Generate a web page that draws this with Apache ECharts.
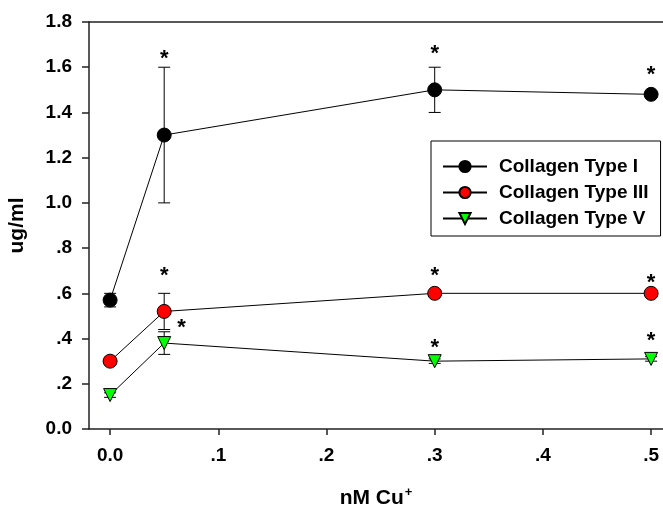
<!DOCTYPE html>
<html>
<head>
<meta charset="utf-8">
<script src="https://cdn.jsdelivr.net/npm/echarts@6/dist/echarts.min.js"></script>
<style>
  html, body { margin: 0; padding: 0; background: #fff; }
  #chart { width: 663px; height: 506px; }
</style>
</head>
<body>
<div id="chart"></div>
<script>
// data
const doses = [0, 0.05, 0.3, 0.5];
const typeI = [0.57, 1.30, 1.50, 1.48];
const typeIErr = [0.03, 0.30, 0.10, 0.01];
const typeIII = [0.30, 0.52, 0.60, 0.60];
const typeIIIErr = [0.01, 0.08, 0.01, 0.01];
const typeV = [0.15, 0.38, 0.30, 0.31];
const typeVErr = [0.01, 0.05, 0.01, 0.01];
// significance marks (x, y)
const starsI = [[0.05, 1.66], [0.3, 1.68], [0.5, 1.59]];
const starsIII = [[0.05, 0.70], [0.3, 0.70], [0.5, 0.67]];
const starsV = [[0.066, 0.47], [0.3, 0.38], [0.5, 0.41]];
const xTicks = [0, 0.1, 0.2, 0.3, 0.4, 0.5];

const FONT = "'Liberation Sans', Arial, sans-serif";

const fmt = (v) => {
  if (Math.abs(v) < 1e-9) return "0.0";
  const s = v.toFixed(1);
  return v < 1 ? s.slice(1) : s;
};

const pairs = (ys) => doses.map((x, i) => [x, ys[i]]);
const errRows = (ys, es) => doses.map((x, i) => [x, ys[i] - es[i], ys[i] + es[i]]);

const errorSeries = (ys, es) => ({
  type: "custom",
  z: 1,
  silent: true,
  data: errRows(ys, es),
  encode: { x: 0, y: [1, 2] },
  renderItem: (params, api) => {
    const lo = api.coord([api.value(0), api.value(1)]);
    const hi = api.coord([api.value(0), api.value(2)]);
    const w = 6;
    const style = { stroke: "#000", lineWidth: 1 };
    return {
      type: "group",
      children: [
        { type: "line", shape: { x1: hi[0], y1: hi[1], x2: lo[0], y2: lo[1] }, style },
        { type: "line", shape: { x1: hi[0] - w, y1: hi[1], x2: hi[0] + w, y2: hi[1] }, style },
        { type: "line", shape: { x1: lo[0] - w, y1: lo[1], x2: lo[0] + w, y2: lo[1] }, style },
      ],
    };
  },
});

const starSeries = (pts) => ({
  type: "custom",
  z: 5,
  silent: true,
  data: pts,
  encode: { x: 0, y: 1 },
  renderItem: (params, api) => {
    const p = api.coord([api.value(0), api.value(1)]);
    return {
      type: "text",
      x: p[0],
      y: p[1] + 5,
      style: {
        text: "*",
        font: "bold 22px " + FONT,
        fill: "#000",
        textAlign: "center",
        textVerticalAlign: "middle",
      },
    };
  },
});

const lineSeries = (name, ys, symbol, color, extra) => Object.assign({
  name,
  type: "line",
  z: 3,
  data: pairs(ys),
  symbol,
  symbolSize: 14,
  showAllSymbol: true,
  lineStyle: { color: "#000", width: 1 },
  itemStyle: { color, borderColor: "#000", borderWidth: 1 },
  emphasis: { disabled: true },
}, extra || {});

const chart = echarts.init(document.getElementById("chart"));

chart.setOption({
  animation: false,
  backgroundColor: "#fff",
  grid: { left: 89, top: 22, right: 0, bottom: 77, outerBoundsMode: "none", containLabel: false },
  legend: {
    orient: "vertical",
    left: 431,
    top: 141,
    padding: [16, 12, 8, 11],
    itemWidth: 44,
    itemHeight: 14,
    itemGap: 7,
    borderColor: "#000",
    borderWidth: 1,
    backgroundColor: "#fff",
    textStyle: { fontFamily: FONT, fontWeight: "bold", fontSize: 19, color: "#000", padding: [0, 0, 0, 7] },
    data: ["Collagen Type I", "Collagen Type III", "Collagen Type V"],
  },
  xAxis: [
    {
      type: "value",
      min: -0.0195,
      max: 0.511,
      splitLine: { show: false },
      axisLine: { show: true, onZero: false, lineStyle: { color: "#222", width: 1.5 } },
      axisTick: { show: true, length: 6, customValues: xTicks, lineStyle: { color: "#222", width: 1.5 } },
      axisLabel: {
        customValues: xTicks,
        formatter: fmt,
        margin: 17,
        fontFamily: FONT,
        fontWeight: "bold",
        fontSize: 19,
        color: "#000",
      },
      name: "{a|nM Cu}{b|+}",
      nameLocation: "middle",
      nameGap: 57,
      nameTextStyle: {
        rich: {
          a: { fontFamily: FONT, fontWeight: "bold", fontSize: 21, color: "#000" },
          b: { fontFamily: FONT, fontWeight: "bold", fontSize: 13, color: "#000", verticalAlign: "top", padding: [0, 0, 12, 1] },
        },
      },
    },
    {
      type: "value",
      position: "top",
      min: -0.0195,
      max: 0.511,
      splitLine: { show: false },
      axisLine: { show: true, onZero: false, lineStyle: { color: "#222", width: 1.5 } },
      axisTick: { show: false },
      axisLabel: { show: false },
    },
  ],
  yAxis: {
    type: "value",
    min: 0,
    max: 1.8,
    interval: 0.2,
    splitLine: { show: false },
    axisLine: { show: true, onZero: false, lineStyle: { color: "#222", width: 1.5 } },
    axisTick: { show: true, length: 7, lineStyle: { color: "#222", width: 1.5 } },
    axisLabel: {
      formatter: fmt,
      margin: 17,
      fontFamily: FONT,
      fontWeight: "bold",
      fontSize: 19,
      color: "#000",
    },
    name: "ug/ml",
    nameLocation: "middle",
    nameGap: 61,
    nameTextStyle: { fontFamily: FONT, fontWeight: "bold", fontSize: 21, color: "#000" },
  },
  series: [
    errorSeries(typeI, typeIErr),
    errorSeries(typeIII, typeIIIErr),
    errorSeries(typeV, typeVErr),
    lineSeries("Collagen Type I", typeI, "circle", "#000"),
    lineSeries("Collagen Type III", typeIII, "circle", "#ff0000"),
    lineSeries("Collagen Type V", typeV, "triangle", "#00ff00", { symbolRotate: 180, symbolSize: 13 }),
    starSeries(starsI),
    starSeries(starsIII),
    starSeries(starsV),
  ],
});
</script>
</body>
</html>
